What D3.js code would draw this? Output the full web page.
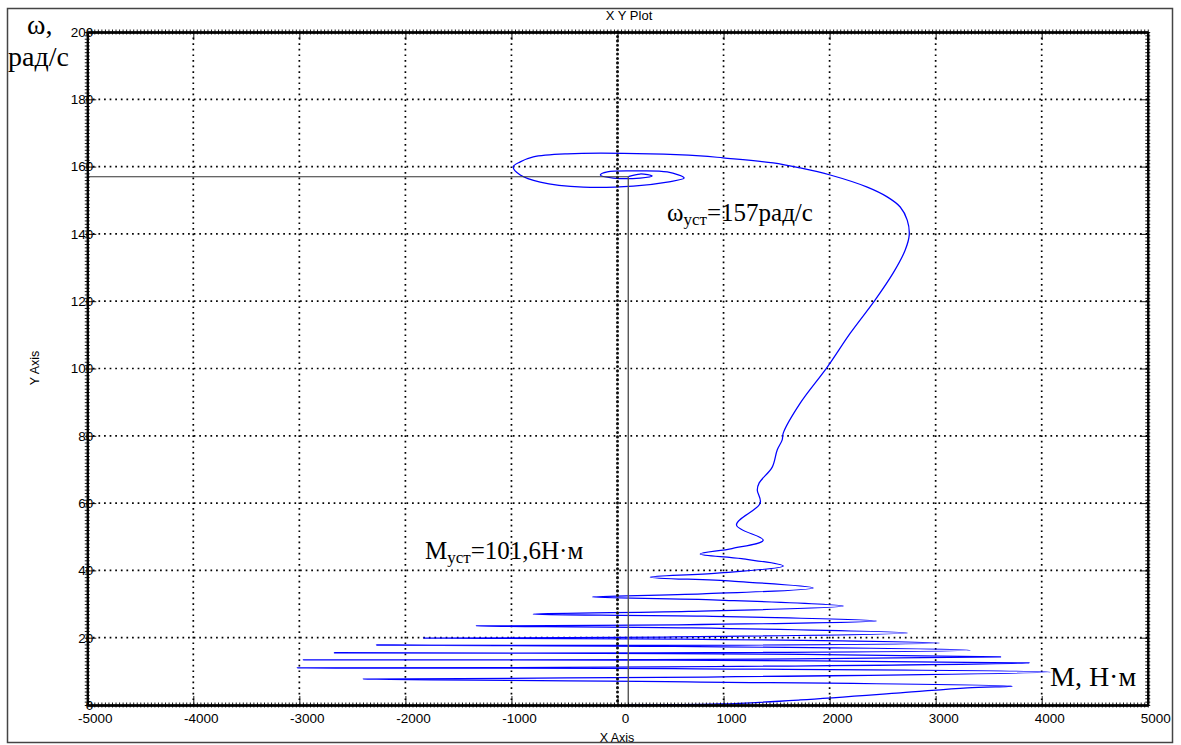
<!DOCTYPE html>
<html>
<head>
<meta charset="utf-8">
<script src="https://cdn.jsdelivr.net/npm/d3@7"></script>
<style>
  body { margin: 0; background: #fff; }
  svg { display: block; }
</style>
</head>
<body>
<svg id="chart" width="1181" height="745"></svg>
<script>
// Axis ticks
const xTicks = [-5000, -4000, -3000, -2000, -1000, 0, 1000, 2000, 3000, 4000, 5000];
const yTicks = [0, 20, 40, 60, 80, 100, 120, 140, 160, 180, 200];
const xTickLabels = ["-5000", "-4000", "-3000", "-2000", "-1000", "0", "1000", "2000", "3000", "4000", "5000"];
const yTickLabels = ["0", "20", "40", "60", "80", "100", "120", "140", "160", "180", "200"];

// Mechanical characteristic of the start-up: torque M (N·m) and speed ω (rad/s)
const torque = [
  100, 969, 1723, 2666, 3298,
  3722, 660, -2398, 840, 4080, 530, -3020, 430, 3882, 460, -2963, 320,
  3612, 470, -2670, 330, 3326, 530, -2274, 380, 3034, 600, -1831, 450,
  2733, 700, -1331, 550, 2441, 820, -794, 670, 2129, 950, -238, 800,
  1846, 1080, 309, 940, 1563, 1170, 780, 1080, 1374, 1122,
  1346, 1318, 1336, 1459, 1506, 1553, 1563, 1723, 1978, 2195, 2430,
  2600, 2713, 2751, 2732, 2666, 2543, 2355, 2006, 1723, 1468, 997, 780,
  309, -474, -794, -917, -983, -917, -729, -323, 149, 469, 629,
  469, 149, -96, -162, -40, 214, 327, 214, 101.6
];
const speed = [
  0, 0.3, 1.5, 3.6, 5.1,
  5.6, 6.9, 7.7, 8.3, 9.8, 10.8, 11.0, 11.3, 12.5, 13.3, 13.4, 13.5,
  14.3, 15.3, 15.5, 15.5, 16.3, 17.4, 17.8, 17.7, 18.4, 19.6, 19.9, 20.2,
  21.4, 22.9, 23.5, 23.8, 25.0, 26.4, 27.0, 27.8, 29.4, 31.2, 32.1, 33.0,
  34.8, 36.8, 38.0, 39.2, 41.3, 43.5, 44.9, 46.5, 49.0, 53.5,
  60.0, 63.9, 66.0, 70.7, 75.8, 78.8, 80.8, 89.7, 100.4, 110.5, 120.4,
  128.4, 135.2, 139.7, 144.1, 148.0, 151.0, 153.9, 157.5, 159.6, 161.1, 162.6, 163.2,
  163.8, 163.8, 162.9, 161.4, 159.9, 157.5, 155.4, 153.9, 154.2, 155.4, 156.6,
  158.4, 158.7, 158.4, 157.5, 156.6, 156.6, 157.2, 157.8, 157
];

// Steady-state operating point
const steadyTorque = 101.6;
const steadySpeed = 157;

const svg = d3.select("#chart");
const plotLeft = 87.25, plotRight = 1147.75, plotTop = 32, plotBottom = 705;

const x = d3.scaleLinear().domain([-5000, 5000]).range([plotLeft, plotRight]);
const y = d3.scaleLinear().domain([0, 200]).range([plotBottom, plotTop]);

const sans = "'Liberation Sans', Arial, sans-serif";
const serif = "'Liberation Serif', 'Times New Roman', serif";

// outer frame
svg.append("rect")
  .attr("x", 7.5).attr("y", 8.5).attr("width", 1165).attr("height", 734)
  .attr("fill", "#fff").attr("stroke", "#444").attr("stroke-width", 1.5);

// dotted grid
const grid = svg.append("g");
grid.selectAll("line.gx")
  .data(xTicks.filter(v => v !== -5000 && v !== 5000 && v !== 0))
  .join("line")
  .attr("x1", d => x(d)).attr("x2", d => x(d))
  .attr("y1", plotTop).attr("y2", plotBottom)
  .attr("stroke", "#000").attr("stroke-width", 1.7)
  .attr("stroke-dasharray", "1.7,3.9");
grid.selectAll("line.gy")
  .data(yTicks.filter(v => v !== 0 && v !== 200))
  .join("line")
  .attr("x1", plotLeft).attr("x2", plotRight)
  .attr("y1", d => y(d)).attr("y2", d => y(d))
  .attr("stroke", "#000").attr("stroke-width", 1.7)
  .attr("stroke-dasharray", "1.7,3.9");

// trajectory
const pts = torque.map((m, i) => [m, speed[i]]);
const line = d3.line()
  .x(d => x(d[0])).y(d => y(d[1]))
  .curve(d3.curveCatmullRom.alpha(0.5));
svg.append("path")
  .datum(pts)
  .attr("d", line)
  .attr("fill", "none")
  .attr("stroke", "#0000ff")
  .attr("stroke-width", 1.25)
  .attr("stroke-linejoin", "round");

// heavy dotted zero line
svg.append("line")
  .attr("x1", x(0)).attr("x2", x(0))
  .attr("y1", plotTop).attr("y2", plotBottom)
  .attr("stroke", "#111").attr("stroke-width", 3)
  .attr("stroke-linecap", "round")
  .attr("stroke-dasharray", "0.1,4.3");

// steady-state guide lines
svg.append("line")
  .attr("x1", x(-5000)).attr("x2", x(steadyTorque))
  .attr("y1", y(steadySpeed)).attr("y2", y(steadySpeed))
  .attr("stroke", "#333").attr("stroke-width", 1.1);
svg.append("line")
  .attr("x1", x(steadyTorque)).attr("x2", x(steadyTorque))
  .attr("y1", y(0)).attr("y2", y(steadySpeed))
  .attr("stroke", "#555").attr("stroke-width", 1.4);

// minor ticks on all four sides, crossing the frame line
const xMinor = d3.range(-5000, 5001, 1000 / 30);
const yMinor = d3.range(0, 201, 1);
function styleAxis(g) {
  g.selectAll("path.domain").attr("stroke", "#000").attr("stroke-width", 1.8);
  g.selectAll(".tick line").attr("stroke", "#000").attr("stroke-width", 0.9);
}
[-2.5, 2.5].forEach(s => {
  svg.append("g").attr("transform", `translate(0,${plotBottom})`)
    .call(d3.axisBottom(x).tickValues(xMinor).tickSizeInner(s).tickSizeOuter(0).tickFormat(""))
    .call(styleAxis);
  svg.append("g").attr("transform", `translate(0,${plotTop})`)
    .call(d3.axisTop(x).tickValues(xMinor).tickSizeInner(s).tickSizeOuter(0).tickFormat(""))
    .call(styleAxis);
  svg.append("g").attr("transform", `translate(${plotLeft},0)`)
    .call(d3.axisLeft(y).tickValues(yMinor).tickSizeInner(s).tickSizeOuter(0).tickFormat(""))
    .call(styleAxis);
  svg.append("g").attr("transform", `translate(${plotRight},0)`)
    .call(d3.axisRight(y).tickValues(yMinor).tickSizeInner(s).tickSizeOuter(0).tickFormat(""))
    .call(styleAxis);
});

// major ticks and labels
const xAxisB = svg.append("g").attr("transform", `translate(0,${plotBottom})`)
  .call(d3.axisBottom(x).tickValues(xTicks).tickSizeInner(-9).tickSizeOuter(0).tickPadding(8)
    .tickFormat((d, i) => xTickLabels[i]))
  .call(styleAxis);
xAxisB.selectAll("text").attr("dx", 7.5)
  .attr("font-family", sans).attr("font-size", 13.5).attr("fill", "#000");
const yAxisL = svg.append("g").attr("transform", `translate(${plotLeft},0)`)
  .call(d3.axisLeft(y).tickValues(yTicks).tickSizeInner(-9).tickSizeOuter(0).tickPadding(-6)
    .tickFormat((d, i) => yTickLabels[i]))
  .call(styleAxis);
yAxisL.selectAll("text")
  .attr("font-family", sans).attr("font-size", 13.5).attr("fill", "#000");
svg.append("g").attr("transform", `translate(0,${plotTop})`)
  .call(d3.axisTop(x).tickValues(xTicks).tickSizeInner(-8).tickSizeOuter(0).tickFormat(""))
  .call(styleAxis);
svg.append("g").attr("transform", `translate(${plotRight},0)`)
  .call(d3.axisRight(y).tickValues(yTicks).tickSizeInner(-8).tickSizeOuter(0).tickFormat(""))
  .call(styleAxis);

// titles
svg.append("text").attr("x", 629).attr("y", 19.5)
  .attr("text-anchor", "middle").attr("font-family", sans).attr("font-size", 13)
  .text("X Y Plot");
svg.append("text").attr("x", 617).attr("y", 742)
  .attr("text-anchor", "middle").attr("font-family", sans).attr("font-size", 12.5)
  .text("X Axis");
svg.append("text").attr("transform", "translate(39,368) rotate(-90)")
  .attr("text-anchor", "middle").attr("font-family", sans).attr("font-size", 12.5)
  .text("Y Axis");

// annotations
svg.append("text").attr("x", 27).attr("y", 34)
  .attr("font-family", serif).attr("font-size", 28).text("ω,");
svg.append("text").attr("x", 8).attr("y", 66)
  .attr("font-family", serif).attr("font-size", 28).text("рад/с");

const wText = svg.append("text").attr("x", 667).attr("y", 221)
  .attr("font-family", serif).attr("font-size", 25);
wText.append("tspan").text("ω");
wText.append("tspan").attr("font-size", 17).attr("dy", 4).text("уст");
wText.append("tspan").attr("dy", -4).text("=157рад/с");

const mText = svg.append("text").attr("x", 425).attr("y", 559)
  .attr("font-family", serif).attr("font-size", 25);
mText.append("tspan").text("M");
mText.append("tspan").attr("font-size", 17).attr("dy", 4).text("уст");
mText.append("tspan").attr("dy", -4).text("=101,6Н·м");

svg.append("text").attr("x", 1050).attr("y", 686)
  .attr("font-family", serif).attr("font-size", 28).text("M, Н·м");
</script>
</body>
</html>
